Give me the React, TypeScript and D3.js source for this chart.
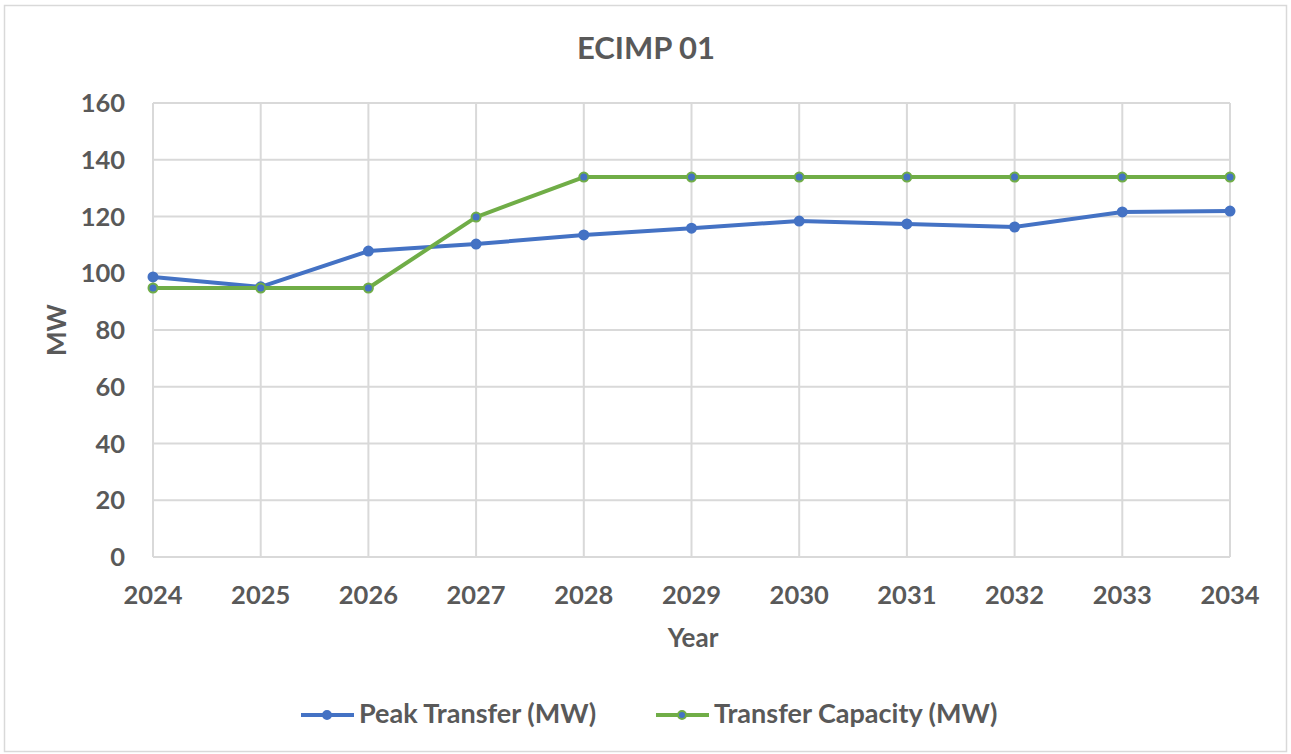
import React from 'react'
import * as d3 from 'd3'

const width = 1291
const height = 754

const years = ['2024', '2025', '2026', '2027', '2028', '2029', '2030', '2031', '2032', '2033', '2034']
const peakTransfer = [98.7, 95.2, 107.8, 110.3, 113.5, 115.9, 118.4, 117.4, 116.3, 121.6, 121.9]
const transferCapacity = [94.8, 94.8, 94.8, 119.8, 133.9, 133.9, 133.9, 133.9, 133.9, 133.9, 133.9]
const yTicks = [0, 20, 40, 60, 80, 100, 120, 140, 160]

const blue = '#4472C4'
const green = '#70AD47'
const textColor = '#595959'
const gridColor = '#d9d9d9'
const font = 'Lato, "Open Sans", sans-serif'

const left = 153
const right = 1230
const top = 103
const bottom = 557

export default function App() {
  const x = d3.scalePoint<string>().domain(years).range([left, right])
  const y = d3.scaleLinear().domain([0, 160]).range([bottom, top])

  const line = d3
    .line<number>()
    .x((_, i) => x(years[i]) as number)
    .y(d => y(d))

  const series = [
    { name: 'Peak Transfer (MW)', values: peakTransfer, stroke: blue },
    { name: 'Transfer Capacity (MW)', values: transferCapacity, stroke: green },
  ]

  return (
    <svg
      width={width}
      height={height}
      style={{ position: 'absolute', left: 0, top: 0, fontFamily: font }}
    >
      <rect x={4.5} y={5.5} width={1282} height={746} fill="#fff" stroke={gridColor} strokeWidth={1.5} />

      <text x={646} y={59} textAnchor="middle" fontSize={31} fontWeight="bold" fill={textColor}>
        ECIMP 01
      </text>

      {yTicks.map(t => (
        <g key={t}>
          <line x1={left} x2={right} y1={y(t)} y2={y(t)} stroke={gridColor} strokeWidth={2} />
          <text x={125} y={y(t) + 9} textAnchor="end" fontSize={25.5} fontWeight="bold" fill={textColor}>
            {t}
          </text>
        </g>
      ))}
      {years.map(yr => (
        <g key={yr}>
          <line x1={x(yr)} x2={x(yr)} y1={top} y2={bottom} stroke={gridColor} strokeWidth={2} />
          <text x={x(yr)} y={604} textAnchor="middle" fontSize={25.5} fontWeight="bold" fill={textColor}>
            {yr}
          </text>
        </g>
      ))}

      <text
        transform={`translate(66, 330) rotate(-90)`}
        textAnchor="middle"
        fontSize={26}
        fontWeight="bold"
        fill={textColor}
      >
        MW
      </text>
      <text x={693} y={647} textAnchor="middle" fontSize={26} fontWeight="bold" fill={textColor}>
        Year
      </text>

      {series.map(s => (
        <g key={s.name}>
          <path d={line(s.values) || ''} fill="none" stroke={s.stroke} strokeWidth={4} strokeLinejoin="round" />
          {s.values.map((v, i) => (
            <circle key={i} cx={x(years[i])} cy={y(v)} r={4.5} fill={blue} stroke={s.stroke} strokeWidth={2} />
          ))}
        </g>
      ))}

      {series.map((s, i) => {
        const lx = i === 0 ? 301 : 656
        return (
          <g key={s.name}>
            <line x1={lx} x2={lx + 53} y1={715} y2={715} stroke={s.stroke} strokeWidth={4} />
            <circle cx={lx + 26} cy={715} r={4} fill={blue} stroke={s.stroke} strokeWidth={2} />
            <text x={lx + 58} y={723} fontSize={27} fontWeight="bold" fill={textColor}>
              {s.name}
            </text>
          </g>
        )
      })}
    </svg>
  )
}
